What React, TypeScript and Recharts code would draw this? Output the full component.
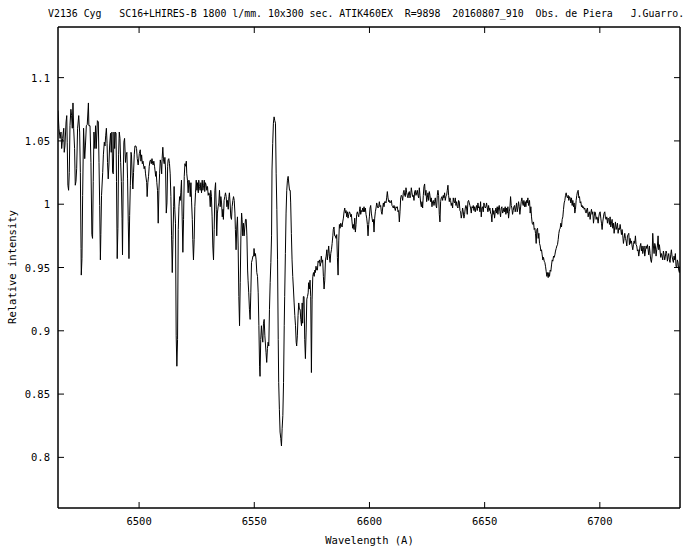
import React from 'react';
import { LineChart, Line, XAxis, YAxis, ReferenceArea } from 'recharts';

// ---- data (wavelength in Angstrom, relative intensity) ----
const wl1 = [6464.8, 6465.2, 6465.7, 6466.1, 6466.4, 6466.8, 6467.3, 6467.5, 6467.8, 6468.3, 6468.6, 6468.8, 6469.1, 6469.4, 6469.7, 6470.0, 6470.4, 6470.7, 6471.0, 6471.3, 6471.6, 6472.0, 6472.3, 6472.6, 6472.9, 6473.3, 6473.8, 6474.2, 6474.5, 6474.8, 6474.9, 6475.2, 6475.5, 6475.9, 6476.4, 6476.7, 6477.1, 6477.5, 6478.0, 6478.2, 6478.7, 6479.1, 6479.5, 6479.8, 6480.1, 6480.4, 6480.8, 6481.1, 6481.4, 6481.9, 6482.3, 6482.6, 6482.9, 6483.2, 6483.4, 6483.7, 6484.2, 6484.5, 6484.9, 6485.2, 6485.5, 6485.8, 6486.1, 6486.3, 6486.6, 6486.9, 6487.2, 6487.6, 6487.9, 6488.2, 6488.5, 6488.8, 6489.1, 6489.4, 6489.7, 6490.0, 6490.2, 6490.5, 6490.8, 6491.1, 6491.4, 6491.7, 6492.0, 6492.3, 6492.6, 6492.8, 6493.1, 6493.4, 6493.7, 6494.1, 6494.4, 6494.7, 6495.0, 6495.3, 6495.6, 6495.9, 6496.2, 6496.5, 6496.7, 6497.0, 6497.3, 6497.6, 6497.9, 6498.2, 6498.6, 6498.9, 6499.2, 6499.6, 6500.1];
const iv1 = [1.074, 1.060, 1.052, 1.057, 1.044, 1.052, 1.060, 1.041, 1.046, 1.065, 1.070, 1.049, 1.015, 1.011, 1.025, 1.062, 1.075, 1.070, 1.060, 1.080, 1.060, 1.044, 1.015, 1.018, 1.028, 1.060, 1.070, 1.057, 1.025, 0.965, 0.944, 0.957, 1.007, 1.060, 1.036, 1.046, 1.062, 1.063, 1.080, 1.062, 1.062, 1.033, 0.976, 0.973, 1.018, 1.057, 1.044, 1.062, 1.044, 1.066, 1.065, 1.033, 0.999, 0.956, 0.976, 1.007, 1.025, 1.039, 1.049, 1.046, 1.054, 1.060, 1.048, 1.033, 1.020, 1.031, 1.046, 1.056, 1.041, 1.057, 1.025, 1.024, 1.057, 1.044, 1.057, 1.056, 1.018, 0.957, 0.981, 1.039, 1.057, 1.052, 1.033, 1.018, 0.989, 0.960, 1.018, 1.049, 1.052, 1.033, 1.039, 1.041, 1.020, 0.986, 0.957, 0.991, 1.015, 1.041, 1.039, 1.023, 1.012, 1.025, 1.039, 1.046, 1.046, 1.044, 1.036, 1.031, 1.040];

const wl2 = [6500.5, 6500.8, 6501.1, 6501.4, 6501.7, 6502.0, 6502.2, 6502.5, 6502.8, 6503.3, 6503.5, 6503.8, 6504.1, 6504.4, 6504.7, 6505.0, 6505.3, 6505.6, 6505.9, 6506.1, 6506.4, 6506.7, 6507.2, 6507.4, 6507.7, 6508.0, 6508.3, 6508.6, 6508.9, 6509.2, 6509.5, 6509.8, 6510.0, 6510.3, 6510.6, 6510.9, 6511.2, 6511.5, 6511.8, 6512.1, 6512.4, 6512.6, 6512.9, 6513.2, 6513.5, 6513.8, 6514.1, 6514.4, 6514.7, 6515.0, 6515.2, 6515.5, 6515.8, 6516.1, 6516.4, 6516.7, 6517.0, 6517.3, 6517.6, 6517.9, 6518.1, 6518.4, 6518.7, 6519.0, 6519.3, 6519.6, 6519.9, 6520.2, 6520.5, 6520.7, 6521.0, 6521.3, 6521.6, 6521.9, 6522.2, 6522.5, 6522.8, 6523.1, 6523.3, 6523.6, 6523.9, 6524.2, 6524.5, 6524.8, 6525.1, 6525.4, 6525.7, 6525.9, 6526.2, 6526.5, 6526.8, 6527.1, 6527.4, 6527.7, 6528.0, 6528.3, 6528.5, 6528.8, 6529.1, 6529.4, 6529.7, 6530.0, 6530.3, 6530.6, 6530.9, 6531.1, 6531.4, 6531.7, 6532.0, 6532.3, 6532.6, 6532.9, 6533.2, 6533.5, 6533.7, 6534.0, 6534.3, 6534.6];
const iv2 = [1.043, 1.034, 1.039, 1.032, 1.034, 1.030, 1.028, 1.030, 1.024, 1.017, 1.006, 1.017, 1.022, 1.030, 1.034, 1.035, 1.032, 1.036, 1.032, 1.031, 1.034, 1.030, 1.022, 1.026, 1.017, 1.011, 0.985, 1.011, 1.024, 1.035, 1.032, 1.024, 1.036, 1.045, 1.035, 1.032, 1.037, 1.027, 0.993, 1.001, 1.030, 1.035, 1.036, 1.032, 1.024, 1.006, 0.975, 0.946, 0.972, 0.998, 1.014, 0.996, 0.985, 0.896, 0.872, 0.893, 0.980, 0.998, 1.006, 1.003, 1.009, 1.019, 0.990, 0.962, 0.988, 1.022, 1.032, 1.030, 1.034, 1.024, 1.019, 1.009, 1.019, 1.017, 1.006, 1.017, 1.001, 0.988, 0.972, 0.956, 0.972, 0.998, 1.009, 1.019, 1.011, 1.017, 1.009, 1.019, 1.014, 1.011, 1.017, 1.009, 1.019, 1.011, 1.015, 1.019, 1.010, 1.017, 1.015, 1.011, 1.014, 1.007, 1.009, 1.007, 0.998, 1.011, 1.006, 0.990, 0.967, 0.956, 0.980, 1.011, 1.017, 0.996, 0.975, 0.993, 0.998, 1.001];

const wl3 = [6534.9, 6535.2, 6535.5, 6535.8, 6536.1, 6536.4, 6536.6, 6536.9, 6537.2, 6537.5, 6537.8, 6538.1, 6538.4, 6538.7, 6539.0, 6539.2, 6539.5, 6539.8, 6540.1, 6540.4, 6540.7, 6541.0, 6541.3, 6541.6, 6541.8, 6542.1, 6542.4, 6542.7, 6543.0, 6543.3, 6543.6, 6543.9, 6544.2, 6544.5, 6544.7, 6545.0, 6545.3, 6545.6, 6545.9, 6546.2, 6546.5, 6546.8, 6547.1, 6547.3, 6547.6, 6547.9, 6548.2, 6548.5, 6548.8, 6549.1, 6549.4, 6549.7, 6549.9, 6550.2, 6550.5, 6550.8, 6551.1, 6551.4, 6551.7, 6552.0, 6552.3, 6552.5, 6552.8, 6553.1, 6553.4, 6553.7, 6554.0, 6554.3, 6554.6, 6554.9, 6555.1, 6555.4, 6555.7, 6556.0, 6556.3, 6556.6, 6556.9, 6557.2, 6557.5, 6557.7, 6558.0, 6558.3, 6558.6, 6558.9, 6559.2, 6559.5, 6559.8, 6560.1, 6560.4, 6560.6, 6560.9, 6561.2, 6561.5, 6561.8, 6562.1, 6562.4, 6562.7, 6563.0, 6563.2, 6563.5, 6563.8, 6564.1, 6564.4, 6564.7, 6565.0, 6565.3, 6565.6, 6565.8, 6566.1, 6566.4, 6566.7, 6567.0, 6567.3, 6567.6, 6567.9, 6568.2, 6568.4, 6568.7, 6569.0, 6569.3, 6569.6, 6569.9, 6570.2, 6570.5, 6570.8, 6571.0, 6571.3, 6571.6, 6571.9, 6572.2, 6572.5, 6572.8, 6573.1, 6573.4, 6573.6, 6573.9, 6574.2, 6574.5, 6574.8, 6575.1, 6575.4, 6575.7, 6576.0, 6576.3, 6576.5, 6576.8, 6577.1, 6577.4, 6577.7, 6578.0, 6578.3, 6578.6, 6578.9, 6579.1, 6579.4, 6579.7, 6580.0, 6580.3, 6580.6, 6580.9, 6581.2, 6581.5, 6581.7, 6582.0, 6582.3, 6582.6, 6582.9, 6583.2, 6583.5, 6583.8, 6584.1, 6584.3, 6584.6, 6584.9];
const iv3 = [1.011, 0.998, 1.006, 1.001, 0.990, 0.996, 0.988, 1.003, 1.006, 1.009,
  1.006, 0.998, 1.003, 0.996, 1.006, 1.009, 1.001, 0.990, 0.988, 0.998,
  1.003, 1.006, 1.003, 0.993, 0.980, 0.964, 0.982, 0.990, 0.967, 0.927,
  0.904, 0.938, 0.975, 0.993, 0.988, 0.975, 0.985, 0.975, 0.982, 0.988,
  0.988, 0.975, 0.948, 0.940, 0.930, 0.917, 0.909, 0.930, 0.954, 0.956,
  0.959, 0.959, 0.965, 0.959, 0.961, 0.956, 0.946, 0.943, 0.930, 0.904,
  0.872, 0.864, 0.893, 0.904, 0.896, 0.891, 0.906, 0.909, 0.896, 0.888,
  0.883, 0.875, 0.886, 0.891, 0.888, 0.917, 0.938, 0.954, 0.975, 1.027,
  1.048, 1.064, 1.069, 1.066, 1.064, 1.024, 0.996, 0.956, 0.893, 0.859,
  0.838, 0.820, 0.815, 0.809, 0.823, 0.833, 0.859, 0.904, 0.927, 0.961,
  0.993, 1.011, 1.019, 1.022, 1.016, 1.011, 1.011, 1.001, 0.977, 0.956,
  0.943, 0.933, 0.922, 0.912, 0.904, 0.891, 0.888, 0.896, 0.912, 0.922,
  0.917, 0.917, 0.909, 0.904, 0.922, 0.906, 0.927, 0.927, 0.893, 0.878,
  0.899, 0.925, 0.927, 0.930, 0.938, 0.933, 0.940, 0.927, 0.867, 0.925,
  0.943, 0.946, 0.943, 0.948, 0.946, 0.951, 0.948, 0.948, 0.955, 0.954,
  0.956, 0.951, 0.954, 0.959, 0.954, 0.956, 0.943, 0.933, 0.940, 0.956,
  0.959, 0.964, 0.956, 0.961, 0.967, 0.959, 0.954, 0.961, 0.964, 0.969,
  0.975, 0.980, 0.982, 0.975];

const wl4 = [6585.21, 6585.50, 6585.79, 6586.08, 6586.38, 6586.67, 6586.95, 6587.24, 6587.53, 6587.81,
  6588.10, 6588.39, 6588.68, 6588.97, 6589.26, 6589.55, 6589.84, 6590.13, 6590.42, 6590.71,
  6591.00, 6591.28, 6591.57, 6591.86, 6592.15, 6592.44, 6592.73, 6593.02, 6593.31, 6593.60,
  6593.89, 6594.18, 6594.46, 6594.75, 6595.04, 6595.33, 6595.62, 6595.91, 6596.20, 6596.49,
  6596.78, 6597.07, 6597.35, 6597.64, 6597.93, 6598.22, 6598.51, 6598.80, 6599.09, 6599.38,
  6599.67, 6599.96, 6600.25, 6600.53, 6600.82, 6601.11, 6601.40, 6601.69, 6601.98, 6602.27,
  6602.56, 6602.85, 6603.14, 6603.42, 6603.71, 6604.00, 6604.29, 6604.58, 6604.87, 6605.16,
  6605.45, 6605.74, 6606.03, 6606.32, 6606.61, 6606.89, 6607.18, 6607.47, 6607.76, 6608.05,
  6608.34, 6608.63, 6608.92, 6609.21, 6609.50, 6609.79, 6610.08, 6610.36, 6610.65, 6610.94,
  6611.23, 6611.52, 6611.81, 6612.10, 6612.39, 6612.68, 6612.97, 6613.26, 6613.55, 6613.83,
  6614.12, 6614.41, 6614.70, 6614.99, 6615.28, 6615.57, 6615.86, 6616.15, 6616.44, 6616.73,
  6617.01, 6617.30, 6617.59, 6617.88, 6618.17, 6618.46, 6618.75, 6619.04, 6619.33, 6619.62,
  6619.90, 6620.19, 6620.48, 6620.77, 6621.06, 6621.35, 6621.64, 6621.93, 6622.22, 6622.51,
  6622.80, 6623.08, 6623.37, 6623.66, 6623.95, 6624.24, 6624.53, 6624.82, 6625.11, 6625.40,
  6625.69, 6625.98, 6626.26, 6626.55, 6626.84, 6627.13, 6627.42, 6627.71, 6628.00, 6628.29,
  6628.58, 6628.87, 6629.15, 6629.44, 6629.73, 6630.02, 6630.31, 6630.60, 6630.89, 6631.18,
  6631.47, 6631.76, 6632.05, 6632.33, 6632.62, 6632.91, 6633.20, 6633.49, 6633.78, 6634.07,
  6634.36, 6634.65, 6634.94, 6635.22, 6635.51, 6635.80, 6636.09, 6636.38, 6636.67, 6636.96,
  6637.25, 6637.54, 6637.83, 6638.12, 6638.41, 6638.69, 6638.98, 6639.27, 6639.56, 6639.85,
  6640.14, 6640.43, 6640.72, 6641.01, 6641.30, 6641.59, 6641.87, 6642.16, 6642.45, 6642.74,
  6643.03, 6643.32, 6643.61, 6643.90, 6644.19, 6644.48, 6644.77, 6645.06, 6645.34, 6645.63,
  6645.92, 6646.21, 6646.50, 6646.79, 6647.08, 6647.37, 6647.66, 6647.95, 6648.24, 6648.53,
  6648.81, 6649.10, 6649.39, 6649.68, 6649.97, 6650.26, 6650.55, 6650.84, 6651.13, 6651.42,
  6651.71, 6652.00, 6652.28, 6652.57, 6652.86, 6653.15, 6653.44, 6653.73, 6654.02, 6654.31,
  6654.60, 6654.89, 6655.18, 6655.46, 6655.75, 6656.04, 6656.33, 6656.62, 6656.91, 6657.20,
  6657.49, 6657.78, 6658.07, 6658.36, 6658.64, 6658.93, 6659.22, 6659.51, 6659.80, 6660.09,
  6660.38, 6660.67, 6660.96, 6661.25, 6661.54, 6661.82, 6662.11, 6662.40, 6662.69, 6662.98,
  6663.27, 6663.56, 6663.85, 6664.14, 6664.43, 6664.72, 6665.01, 6665.29, 6665.58, 6665.87,
  6666.16, 6666.45, 6666.74, 6667.03, 6667.32, 6667.61, 6667.90, 6668.19, 6668.48, 6668.76,
  6669.05];
const iv4 = [0.975, 0.973, 0.976, 0.958, 0.944, 0.971, 0.984, 0.981, 0.985, 0.984,
  0.982, 0.986, 0.989, 0.994, 0.997, 0.993, 0.995, 0.990, 0.994, 0.989,
  0.992, 0.994, 0.993, 0.990, 0.992, 0.986, 0.981, 0.984, 0.980, 0.989,
  0.978, 0.984, 0.992, 0.994, 0.992, 0.990, 0.994, 0.998, 0.992, 0.995,
  0.994, 0.997, 0.994, 0.998, 0.994, 0.997, 0.992, 0.989, 0.984, 0.975,
  0.984, 0.990, 0.997, 0.999, 0.993, 0.989, 0.986, 0.988, 0.978, 0.989,
  0.994, 0.997, 1.001, 0.999, 0.997, 0.998, 1.002, 0.998, 0.999, 0.994,
  0.992, 0.997, 1.001, 0.998, 1.002, 1.002, 1.001, 1.005, 1.010, 1.005,
  1.002, 1.003, 1.001, 1.002, 1.003, 0.999, 0.998, 0.997, 0.999, 0.997,
  0.995, 0.998, 0.997, 0.998, 0.994, 0.995, 0.986, 0.994, 1.005, 1.007,
  1.006, 1.003, 1.009, 1.011, 1.007, 1.006, 1.013, 1.009, 1.007, 1.005,
  1.009, 1.010, 1.005, 1.007, 1.013, 1.009, 1.006, 1.007, 1.003, 1.010,
  1.011, 1.007, 1.009, 1.011, 1.007, 1.005, 1.013, 1.007, 1.001, 0.998,
  1.002, 0.997, 1.007, 1.014, 1.016, 1.007, 1.011, 1.002, 1.005, 1.009,
  1.003, 1.010, 1.007, 1.002, 1.005, 0.998, 1.002, 1.003, 0.999, 1.002,
  1.005, 0.999, 0.997, 1.007, 1.011, 1.007, 0.992, 0.986, 1.002, 1.005,
  1.006, 1.003, 1.007, 1.005, 1.009, 1.003, 1.006, 1.007, 1.011, 1.015,
  1.007, 1.002, 1.005, 1.003, 0.999, 1.001, 0.997, 1.005, 1.002, 1.001,
  1.005, 0.999, 1.002, 0.998, 0.997, 1.003, 1.002, 0.995, 0.994, 0.989,
  0.992, 0.997, 0.994, 0.989, 0.992, 0.997, 0.999, 0.997, 0.992, 1.002,
  1.003, 1.001, 0.999, 0.997, 0.993, 0.998, 0.997, 0.999, 0.995, 0.998,
  0.994, 0.997, 0.999, 0.995, 1.001, 0.997, 0.998, 0.994, 1.002, 0.990,
  0.997, 0.998, 0.994, 1.001, 0.999, 0.997, 0.998, 1.001, 0.997, 0.994,
  0.999, 0.995, 0.997, 0.993, 0.992, 0.986, 0.997, 0.992, 0.995, 0.989,
  0.994, 0.997, 0.993, 0.998, 0.992, 0.997, 0.999, 0.994, 0.990, 0.997,
  0.998, 0.993, 0.994, 0.997, 0.994, 0.998, 0.992, 0.997, 0.993, 0.998,
  0.989, 0.994, 0.997, 1.006, 0.999, 0.997, 0.992, 0.995, 0.998, 0.999,
  0.994, 0.997, 1.001, 0.994, 0.997, 1.002, 0.998, 0.992, 0.997, 1.002,
  1.005, 1.001, 0.999, 1.003, 0.998, 1.002, 0.998, 1.003, 1.001, 1.005,
  0.999];

const wl5 = [6669.48, 6669.77, 6670.06, 6670.35, 6670.64, 6670.93, 6671.22, 6671.51, 6671.80, 6672.08,
  6672.37, 6672.66, 6672.95, 6673.24, 6673.53, 6673.82, 6674.11, 6674.40, 6674.69, 6674.97,
  6675.26, 6675.55, 6675.84, 6676.13, 6676.42, 6676.71, 6677.00, 6677.29, 6677.58, 6677.87,
  6678.16, 6678.45, 6678.74, 6679.03, 6679.32, 6679.61, 6679.90, 6680.19, 6680.48, 6680.76,
  6681.05, 6681.34, 6681.63, 6681.92, 6682.21, 6682.50, 6682.79, 6683.08, 6683.37, 6683.65,
  6683.94, 6684.23, 6684.52, 6684.81, 6685.10, 6685.39, 6685.68, 6685.97, 6686.26, 6686.54,
  6686.83, 6687.12, 6687.41, 6687.70, 6687.99, 6688.28, 6688.57, 6688.86, 6689.15, 6689.43,
  6689.72, 6690.01, 6690.30, 6690.59, 6690.88, 6691.17, 6691.46, 6691.75, 6692.04, 6692.32,
  6692.61, 6692.90, 6693.19, 6693.48, 6693.77, 6694.06, 6694.35, 6694.64, 6694.93, 6695.21,
  6695.50, 6695.79, 6696.08, 6696.37, 6696.66, 6696.95, 6697.24, 6697.53, 6697.82, 6698.10,
  6698.39, 6698.68, 6698.97, 6699.26, 6699.55, 6699.84, 6700.13, 6700.42, 6700.71, 6700.99,
  6701.28, 6701.57, 6701.86, 6702.15, 6702.44, 6702.73, 6703.02, 6703.31, 6703.60, 6703.88,
  6704.17, 6704.46, 6704.75, 6705.04, 6705.33, 6705.62, 6705.91, 6706.20, 6706.49, 6706.78,
  6707.07, 6707.36, 6707.65, 6707.94, 6708.23, 6708.52, 6708.81, 6709.10, 6709.39, 6709.67,
  6709.96, 6710.25, 6710.54, 6710.83, 6711.12, 6711.41, 6711.70, 6711.99, 6712.28, 6712.56,
  6712.85, 6713.14, 6713.43, 6713.72, 6714.01, 6714.30, 6714.59, 6714.88, 6715.17, 6715.45,
  6715.74, 6716.03, 6716.32, 6716.61, 6716.90, 6717.19, 6717.48, 6717.77, 6718.06, 6718.34,
  6718.63, 6718.92, 6719.21, 6719.50, 6719.79, 6720.08, 6720.37, 6720.66, 6720.95, 6721.23,
  6721.52, 6721.81, 6722.10, 6722.39, 6722.68, 6722.97, 6723.26, 6723.55, 6723.84, 6724.12,
  6724.41, 6724.70, 6724.99, 6725.28, 6725.57, 6725.86, 6726.15, 6726.44, 6726.73, 6727.01,
  6727.30, 6727.59, 6727.88, 6728.17, 6728.46, 6728.75, 6729.04, 6729.33, 6729.62, 6729.90,
  6730.19, 6730.48, 6730.77, 6731.06, 6731.35, 6731.64, 6731.93, 6732.22, 6732.51, 6732.79,
  6733.08, 6733.37, 6733.66, 6733.95, 6734.24, 6734.53, 6734.82];
const iv5 = [1.003, 0.993, 0.998, 0.990, 0.985, 0.984, 0.986, 0.980, 0.981, 0.977,
  0.969, 0.980, 0.981, 0.973, 0.977, 0.969, 0.967, 0.963, 0.964, 0.960,
  0.956, 0.958, 0.955, 0.954, 0.951, 0.947, 0.943, 0.946, 0.942, 0.946,
  0.943, 0.948, 0.947, 0.952, 0.956, 0.955, 0.959, 0.958, 0.960, 0.963,
  0.965, 0.967, 0.968, 0.972, 0.977, 0.980, 0.981, 0.985, 0.982, 0.988,
  0.990, 0.996, 1.001, 1.003, 1.007, 1.009, 1.006, 1.005, 1.007, 1.003,
  1.006, 1.005, 1.001, 1.005, 0.999, 1.003, 0.998, 1.001, 0.993, 0.996,
  1.003, 1.007, 1.010, 1.011, 1.005, 1.006, 1.001, 1.002, 0.998, 0.999,
  0.997, 0.998, 0.996, 0.997, 0.994, 0.993, 0.996, 0.997, 0.990, 0.993,
  0.994, 0.988, 0.993, 0.996, 0.992, 0.994, 0.985, 0.990, 0.994, 0.993,
  0.988, 0.990, 0.989, 0.985, 0.990, 0.993, 0.994, 0.989, 0.985, 0.980,
  0.986, 0.990, 0.993, 0.994, 0.989, 0.988, 0.990, 0.985, 0.989, 0.988,
  0.984, 0.990, 0.982, 0.985, 0.988, 0.981, 0.985, 0.977, 0.982, 0.986,
  0.980, 0.982, 0.985, 0.977, 0.981, 0.980, 0.984, 0.980, 0.976, 0.980,
  0.975, 0.969, 0.973, 0.977, 0.973, 0.971, 0.967, 0.975, 0.976, 0.977,
  0.968, 0.973, 0.969, 0.971, 0.967, 0.964, 0.968, 0.971, 0.969, 0.975,
  0.968, 0.967, 0.963, 0.964, 0.959, 0.963, 0.967, 0.969, 0.963, 0.967,
  0.961, 0.964, 0.967, 0.959, 0.963, 0.967, 0.965, 0.968, 0.964, 0.960,
  0.967, 0.961, 0.956, 0.954, 0.959, 0.977, 0.967, 0.961, 0.969, 0.967,
  0.959, 0.964, 0.967, 0.975, 0.964, 0.968, 0.963, 0.958, 0.961, 0.959,
  0.956, 0.963, 0.960, 0.956, 0.959, 0.963, 0.961, 0.955, 0.959, 0.961,
  0.956, 0.954, 0.960, 0.964, 0.959, 0.956, 0.954, 0.959, 0.956, 0.961,
  0.951, 0.950, 0.956, 0.954, 0.948, 0.946, 0.951];

const xTicks = [6500, 6550, 6600, 6650, 6700];
const yTicks = [0.8, 0.85, 0.9, 0.95, 1, 1.05, 1.1];
const xDomain = [6464.8, 6734.8];
const yDomain = [0.76, 1.14];

const titleText = 'V2136 Cyg   SC16+LHIRES-B 1800 l/mm. 10x300 sec. ATIK460EX  R=9898  20160807_910  Obs. de Piera   J.Guarro.';
const xLabel = 'Wavelength (A)';
const yLabel = 'Relative intensity';

const segments: [number[], number[]][] = [[wl1, iv1], [wl2, iv2], [wl3, iv3], [wl4, iv4], [wl5, iv5]];
const data: { w: number; v: number }[] = [];
segments.forEach(([ws, vs]) => {
  const n = Math.min(ws.length, vs.length);
  for (let i = 0; i < n; i++) data.push({ w: ws[i], v: vs[i] });
});

const FONT = '"DejaVu Sans Mono", "Liberation Mono", monospace';
const FS = 10.5;
const TICK = 6;

const LeftTick = (props: any) => {
  const { x, y, payload } = props;
  return (
    <g>
      <line x1={x} x2={x + TICK} y1={y} y2={y} stroke="#000" strokeWidth={1} />
      <text x={x - 8} y={y} textAnchor="end" dominantBaseline="central" fontFamily={FONT} fontSize={FS} fill="#000">
        {String(payload.value)}
      </text>
    </g>
  );
};
const RightTick = (props: any) => {
  const { x, y } = props;
  return <line x1={x} x2={x - TICK} y1={y} y2={y} stroke="#000" strokeWidth={1} />;
};
const BottomTick = (props: any) => {
  const { x, y, payload } = props;
  return (
    <g>
      <line x1={x} x2={x} y1={y} y2={y - TICK} stroke="#000" strokeWidth={1} />
      <text x={x} y={y + 13} textAnchor="middle" dominantBaseline="central" fontFamily={FONT} fontSize={FS} fill="#000">
        {String(payload.value)}
      </text>
    </g>
  );
};
const TopTick = (props: any) => {
  const { x, y } = props;
  return <line x1={x} x2={x} y1={y} y2={y + TICK} stroke="#000" strokeWidth={1} />;
};

export default function App() {
  return (
    <div style={{ position: 'absolute', left: 0, top: 0, width: 700, height: 550, background: '#fff' }}>
      <LineChart width={700} height={550} data={data} margin={{ top: 26, right: 19, bottom: 12, left: 8 }}>
        <XAxis
          xAxisId="b"
          type="number"
          dataKey="w"
          domain={xDomain}
          ticks={xTicks}
          interval={0}
          allowDataOverflow
          height={30}
          axisLine={{ stroke: '#000' }}
          tickLine={false}
          tickSize={0}
          tickMargin={0}
          tick={<BottomTick />}
        />
        <XAxis
          xAxisId="t"
          orientation="top"
          type="number"
          dataKey="w"
          domain={xDomain}
          ticks={xTicks}
          interval={0}
          allowDataOverflow
          height={1}
          axisLine={{ stroke: '#000' }}
          tickLine={false}
          tickSize={0}
          tickMargin={0}
          tick={<TopTick />}
        />
        <YAxis
          yAxisId="l"
          type="number"
          domain={yDomain}
          ticks={yTicks}
          interval={0}
          allowDataOverflow
          width={50}
          axisLine={{ stroke: '#000' }}
          tickLine={false}
          tickSize={0}
          tickMargin={0}
          tick={<LeftTick />}
        />
        <YAxis
          yAxisId="r"
          orientation="right"
          type="number"
          domain={yDomain}
          ticks={yTicks}
          interval={0}
          allowDataOverflow
          width={1}
          axisLine={{ stroke: '#000' }}
          tickLine={false}
          tickSize={0}
          tickMargin={0}
          tick={<RightTick />}
        />
        <ReferenceArea
          xAxisId="b"
          yAxisId="l"
          x1={xDomain[0]}
          x2={xDomain[1]}
          y1={yDomain[0]}
          y2={yDomain[1]}
          fill="none"
          fillOpacity={0}
          stroke="#000"
          strokeWidth={1}
          ifOverflow="visible"
        />
        <Line
          xAxisId="t"
          yAxisId="r"
          type="linear"
          dataKey="v"
          stroke="none"
          strokeOpacity={0}
          dot={false}
          activeDot={false}
          isAnimationActive={false}
        />
        <Line
          xAxisId="b"
          yAxisId="l"
          type="linear"
          dataKey="v"
          stroke="#000"
          strokeWidth={1}
          dot={false}
          activeDot={false}
          isAnimationActive={false}
        />
      </LineChart>
      <svg width={700} height={550} style={{ position: 'absolute', left: 0, top: 0, pointerEvents: 'none' }}>
        <text x={48} y={13} dominantBaseline="central" fontFamily={FONT} fontSize={9.9} fill="#000" style={{ whiteSpace: 'pre' }}>
          {titleText}
        </text>
        <text x={369.5} y={540} textAnchor="middle" dominantBaseline="central" fontFamily={FONT} fontSize={FS} fill="#000">
          {xLabel}
        </text>
        <text transform="translate(12,267) rotate(-90)" textAnchor="middle" dominantBaseline="central" fontFamily={FONT} fontSize={FS} fill="#000">
          {yLabel}
        </text>
      </svg>
    </div>
  );
}
